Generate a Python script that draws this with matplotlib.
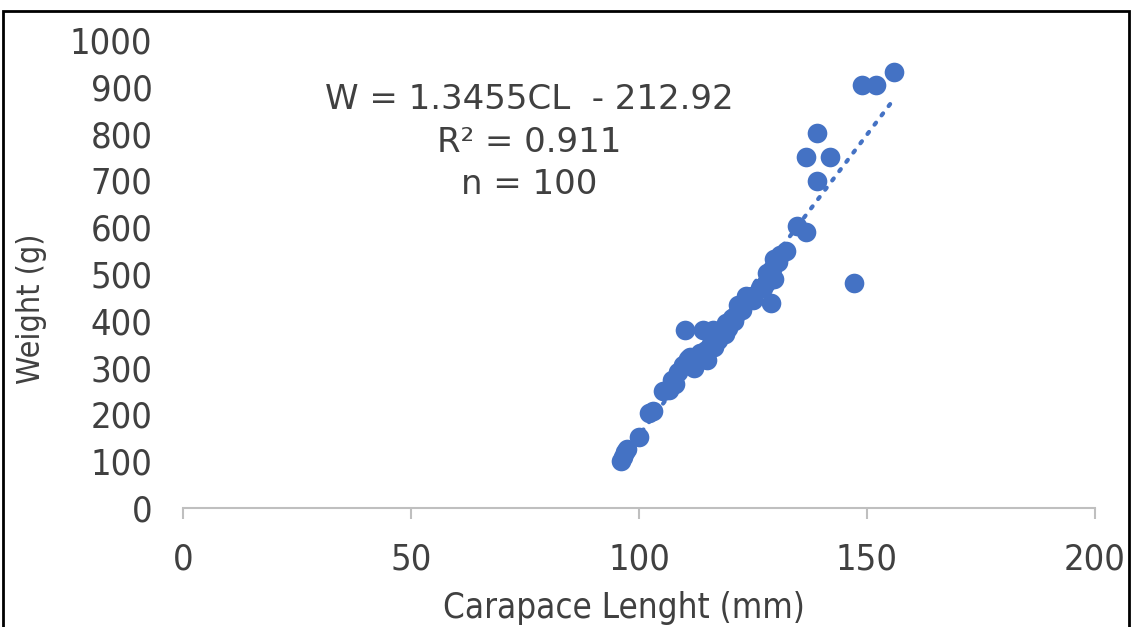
import numpy as np
import matplotlib.pyplot as plt

# carapace length (mm) and weight (g)
cl = [96, 96.5, 97.4, 97, 100, 102.2, 103, 105.3, 106.6, 107.2, 108.6, 109.6, 110,
      111.2, 111.8, 112.7, 113.4, 114, 115, 114.7, 116.2, 116.5, 117.3, 118.2, 119,
      120.4, 121.7, 122.6, 123.5, 124.8, 127.9, 128, 129.2, 129, 129.5, 129.6, 132.2,
      134.6, 136.6, 136.6, 139, 139, 141.9, 147.1, 148.9, 152, 156,
      110.5, 112, 113, 114.5, 116, 117.8, 119.5, 121, 122, 125, 126.5, 128.5, 130.5,
      108, 110.8, 113.8, 115.8, 118.8, 120.8, 127.2, 131]
weight = [100, 110, 126, 120, 152, 203, 207, 250, 252, 274, 291, 306, 380,
          323, 312, 321, 331, 380, 316, 338, 380, 345, 359, 376, 395,
          406, 434, 423, 453, 453, 481, 502, 510, 438, 490, 532, 549,
          603, 590, 750, 801, 699, 750, 481, 904, 904, 932,
          305, 300, 315, 325, 355, 370, 385, 410, 425, 445, 470, 495, 525,
          265, 318, 330, 350, 372, 400, 470, 540]

blue = '#4472C4'
txt = '#404040'

fig = plt.figure(figsize=(11.32, 6.27), dpi=100)
ax = fig.add_axes([0.1617, 0.1898, 0.8056, 0.7464])

ax.scatter(cl, weight, s=200, color=blue, zorder=3, linewidths=0)

# linear trendline
k, b = np.polyfit(cl, weight, 1)
xs = np.array([min(cl), max(cl)])
ax.plot(xs, k * xs + b, color=blue, lw=3, linestyle=(0, (0.6, 2.2)),
        dash_capstyle='round', zorder=2)

ax.set_xlim(0, 200)
ax.set_ylim(0, 1000)
ax.set_xticks([0, 50, 100, 150, 200])
ax.set_yticks(range(0, 1001, 100))

for s in ['top', 'right', 'left']:
    ax.spines[s].set_visible(False)
ax.spines['bottom'].set_color('#bfbfbf')
ax.spines['bottom'].set_linewidth(1.5)
ax.tick_params(axis='x', colors='#bfbfbf', length=8, width=1.5, pad=17,
               labelcolor=txt, labelsize=26)
ax.tick_params(axis='y', length=0, pad=22, labelcolor=txt, labelsize=26)
for lab in ax.get_xticklabels() + ax.get_yticklabels():
    lab.set_fontstretch('condensed')

ax.set_xlabel('Carapace Lenght (mm)', fontsize=25, color=txt,
              fontstretch='condensed')
ax.set_ylabel('Weight (g)', fontsize=23, color=txt, fontstretch='condensed')
ax.xaxis.set_label_coords(0.483, -0.178)
ax.yaxis.set_label_coords(-0.149, 0.425)

ax.text(76, 782, 'W = 1.3455CL  - 212.92\nR² = 0.911\nn = 100', ha='center',
        va='center', fontsize=24.5, color=txt, linespacing=1.35)

# frame around the picture
fig.patches.append(plt.Rectangle((0.003, -0.05), 0.994, 1.033, transform=fig.transFigure,
                                 fill=False, edgecolor='black', lw=2))

fig.savefig('out.png', dpi=100)
